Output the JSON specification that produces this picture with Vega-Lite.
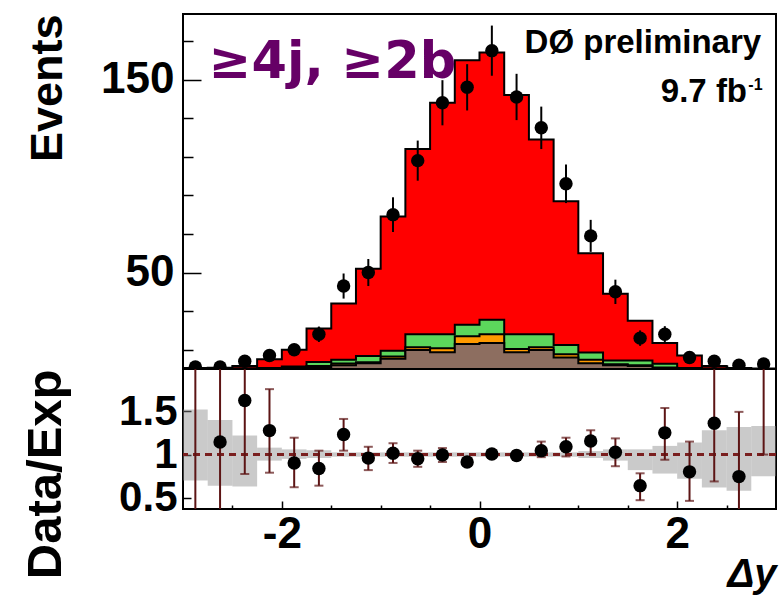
{
  "$schema": "https://vega.github.io/schema/vega-lite/v6.json",
  "background": "white",
  "padding": {"left": 20, "top": 12, "right": 6, "bottom": 5},
  "spacing": 0,
  "bounds": "flush",
  "config": {
    "view": {"stroke": "black", "strokeWidth": 2},
    "axis": {
      "labelFont": "Liberation Sans", "labelFontWeight": "bold", "labelFontSize": 44, "labelColor": "black",
      "titleFont": "Liberation Sans", "titleFontWeight": "bold", "titleColor": "black",
      "tickColor": "black", "tickWidth": 1.5, "domain": false, "grid": false, "zindex": 1, "labelOverlap": false
    }
  },
  "datasets": {
    "hist": [
      {"edge": -3, "tot": 0.5, "w": 0, "z": 0, "mj": 0},
      {"edge": -2.75, "tot": 0.6, "w": 0.1, "z": 0.05, "mj": 0},
      {"edge": -2.5, "tot": 1.5, "w": 0.3, "z": 0.1, "mj": 0.1},
      {"edge": -2.25, "tot": 5, "w": 0.5, "z": 0.2, "mj": 0.1},
      {"edge": -2, "tot": 10, "w": 1.3, "z": 0.5, "mj": 0.3},
      {"edge": -1.75, "tot": 21, "w": 3.6, "z": 1.5, "mj": 0.8},
      {"edge": -1.5, "tot": 34, "w": 4.8, "z": 2.9, "mj": 1.9},
      {"edge": -1.25, "tot": 52, "w": 6.8, "z": 3.5, "mj": 3.0},
      {"edge": -1, "tot": 79, "w": 9.5, "z": 6.5, "mj": 5.3},
      {"edge": -0.75, "tot": 114, "w": 18, "z": 11.3, "mj": 9.9},
      {"edge": -0.5, "tot": 138, "w": 18, "z": 10.8, "mj": 8.7},
      {"edge": -0.25, "tot": 160, "w": 23, "z": 17, "mj": 13},
      {"edge": 0, "tot": 164, "w": 25.5, "z": 18, "mj": 13.5},
      {"edge": 0.25, "tot": 142, "w": 18, "z": 10.4, "mj": 8.7},
      {"edge": 0.5, "tot": 119, "w": 18, "z": 11.3, "mj": 9.9},
      {"edge": 0.75, "tot": 87, "w": 12.5, "z": 7.7, "mj": 6},
      {"edge": 1, "tot": 60, "w": 8.5, "z": 4.8, "mj": 3},
      {"edge": 1.25, "tot": 39, "w": 4.4, "z": 2.5, "mj": 1.9},
      {"edge": 1.5, "tot": 25, "w": 4.4, "z": 2, "mj": 1.5},
      {"edge": 1.75, "tot": 13.5, "w": 2.7, "z": 0.8, "mj": 0.5},
      {"edge": 2, "tot": 7, "w": 0.5, "z": 0.2, "mj": 0.1},
      {"edge": 2.25, "tot": 1.5, "w": 0.2, "z": 0.1, "mj": 0},
      {"edge": 2.5, "tot": 0.5, "w": 0.05, "z": 0, "mj": 0},
      {"edge": 2.75, "tot": 0.3, "w": 0, "z": 0, "mj": 0},
      {"edge": 3, "tot": 0.3, "w": 0, "z": 0, "mj": 0}
    ],
    "pts": [
      {"x": -2.875, "e0": -3, "e1": -2.75, "n": 1, "lo": 0, "hi": 2, "r": 2.3, "rlo": 0.1, "rhi": 4.5, "ulo": 0.70, "uhi": 1.52},
      {"x": -2.625, "e0": -2.75, "e1": -2.5, "n": 1, "lo": 0, "hi": 2, "r": 1.146, "rlo": 0.1, "rhi": 2.5, "ulo": 0.64, "uhi": 1.40},
      {"x": -2.375, "e0": -2.5, "e1": -2.25, "n": 4, "lo": 2, "hi": 6, "r": 1.625, "rlo": 0.775, "rhi": 2.5, "ulo": 0.63, "uhi": 1.22},
      {"x": -2.125, "e0": -2.25, "e1": -2, "n": 7, "lo": 4.4, "hi": 9.6, "r": 1.277, "rlo": 0.79, "rhi": 1.757, "ulo": 0.93, "uhi": 1.08},
      {"x": -1.875, "e0": -2, "e1": -1.75, "n": 10, "lo": 7, "hi": 13, "r": 0.903, "rlo": 0.622, "rhi": 1.195, "ulo": 0.95, "uhi": 1.06},
      {"x": -1.625, "e0": -1.75, "e1": -1.5, "n": 18, "lo": 14, "hi": 22, "r": 0.839, "rlo": 0.64, "rhi": 1.045, "ulo": 0.96, "uhi": 1.05},
      {"x": -1.375, "e0": -1.5, "e1": -1.25, "n": 43, "lo": 36.5, "hi": 49.5, "r": 1.232, "rlo": 1.045, "rhi": 1.412, "ulo": 0.975, "uhi": 1.025},
      {"x": -1.125, "e0": -1.25, "e1": -1, "n": 50, "lo": 43, "hi": 57, "r": 0.959, "rlo": 0.82, "rhi": 1.09, "ulo": 0.975, "uhi": 1.025},
      {"x": -0.875, "e0": -1, "e1": -0.75, "n": 80, "lo": 71, "hi": 89, "r": 1.015, "rlo": 0.903, "rhi": 1.131, "ulo": 0.975, "uhi": 1.025},
      {"x": -0.625, "e0": -0.75, "e1": -0.5, "n": 108, "lo": 97.6, "hi": 118.4, "r": 0.951, "rlo": 0.858, "rhi": 1.045, "ulo": 0.975, "uhi": 1.025},
      {"x": -0.375, "e0": -0.5, "e1": -0.25, "n": 138, "lo": 126.3, "hi": 149.7, "r": 0.996, "rlo": 0.914, "rhi": 1.075, "ulo": 0.975, "uhi": 1.025},
      {"x": -0.125, "e0": -0.25, "e1": 0, "n": 146, "lo": 134, "hi": 158, "r": 0.914, "rlo": 0.87, "rhi": 0.96, "ulo": 0.975, "uhi": 1.025},
      {"x": 0.125, "e0": 0, "e1": 0.25, "n": 165, "lo": 152, "hi": 178, "r": 1.007, "rlo": 0.96, "rhi": 1.05, "ulo": 0.975, "uhi": 1.025},
      {"x": 0.375, "e0": 0.25, "e1": 0.5, "n": 141, "lo": 129, "hi": 153, "r": 0.989, "rlo": 0.94, "rhi": 1.04, "ulo": 0.975, "uhi": 1.025},
      {"x": 0.625, "e0": 0.5, "e1": 0.75, "n": 125, "lo": 114, "hi": 136, "r": 1.045, "rlo": 0.97, "rhi": 1.15, "ulo": 0.975, "uhi": 1.025},
      {"x": 0.875, "e0": 0.75, "e1": 1, "n": 96, "lo": 86, "hi": 106, "r": 1.09, "rlo": 0.978, "rhi": 1.195, "ulo": 0.975, "uhi": 1.025},
      {"x": 1.125, "e0": 1, "e1": 1.25, "n": 69, "lo": 60.7, "hi": 77.3, "r": 1.157, "rlo": 1.007, "rhi": 1.281, "ulo": 0.96, "uhi": 1.04},
      {"x": 1.375, "e0": 1.25, "e1": 1.5, "n": 40, "lo": 33.7, "hi": 46.3, "r": 1.026, "rlo": 0.865, "rhi": 1.187, "ulo": 0.93, "uhi": 1.06},
      {"x": 1.625, "e0": 1.5, "e1": 1.75, "n": 16, "lo": 12, "hi": 20, "r": 0.64, "rlo": 0.472, "rhi": 0.783, "ulo": 0.82, "uhi": 1.06},
      {"x": 1.875, "e0": 1.75, "e1": 2, "n": 18, "lo": 13.8, "hi": 22.2, "r": 1.251, "rlo": 0.94, "rhi": 1.539, "ulo": 0.78, "uhi": 1.10},
      {"x": 2.125, "e0": 2, "e1": 2.25, "n": 6, "lo": 3.5, "hi": 8.5, "r": 0.8, "rlo": 0.464, "rhi": 1.15, "ulo": 0.72, "uhi": 1.14},
      {"x": 2.375, "e0": 2.25, "e1": 2.5, "n": 4, "lo": 2, "hi": 6, "r": 1.363, "rlo": 0.689, "rhi": 2.5, "ulo": 0.62, "uhi": 1.28},
      {"x": 2.625, "e0": 2.5, "e1": 2.75, "n": 2, "lo": 0.6, "hi": 3.4, "r": 0.745, "rlo": 0.1, "rhi": 1.494, "ulo": 0.58, "uhi": 1.32},
      {"x": 2.875, "e0": 2.75, "e1": 3, "n": 2.6, "lo": 1, "hi": 4.2, "r": 2.5, "rlo": 1.0, "rhi": 4.0, "ulo": 0.75, "uhi": 1.33}
    ]
  },
  "vconcat": [
    {
      "width": 593, "height": 355,
      "layer": [
        {
          "data": {"name": "hist"},
          "mark": {"type": "area", "interpolate": "step-after", "fill": "#ff0000", "stroke": "black", "strokeWidth": 2},
          "encoding": {
            "x": {"field": "edge", "type": "quantitative", "scale": {"domain": [-3, 3], "nice": false, "zero": false},
              "axis": {"orient": "bottom", "values": [-2.5, -2, -1.5, -1, -0.5, 0, 0.5, 1, 1.5, 2, 2.5], "labels": false, "title": null,
                "tickSize": {"condition": {"test": "datum.value % 2 === 0", "value": -8}, "value": -4}}},
            "y": {"field": "tot", "type": "quantitative", "scale": {"domain": [0, 184], "nice": false},
              "axis": {"values": [10, 20, 30, 40, 50, 60, 70, 80, 90, 100, 110, 120, 130, 140, 150, 160, 170, 180],
                "labelExpr": "datum.value % 50 === 0 ? datum.label : ''", "labelPadding": 27,
                "tickSize": {"condition": {"test": "datum.value % 50 === 0", "value": -18}, "value": -10},
                "title": "Events", "titleFontSize": 45, "titleAnchor": "end", "titlePadding": 30}}
          }
        },
        {
          "data": {"name": "hist"},
          "mark": {"type": "area", "interpolate": "step-after", "fill": "#5cd65c", "stroke": "black", "strokeWidth": 2},
          "encoding": {"x": {"field": "edge", "type": "quantitative"}, "y": {"field": "w", "type": "quantitative"}}
        },
        {
          "data": {"name": "hist"},
          "mark": {"type": "area", "interpolate": "step-after", "fill": "#ff9a00", "stroke": "black", "strokeWidth": 2},
          "encoding": {"x": {"field": "edge", "type": "quantitative"}, "y": {"field": "z", "type": "quantitative"}}
        },
        {
          "data": {"name": "hist"},
          "mark": {"type": "area", "interpolate": "step-after", "fill": "#8d6e60", "stroke": "black", "strokeWidth": 2},
          "encoding": {"x": {"field": "edge", "type": "quantitative"}, "y": {"field": "mj", "type": "quantitative"}}
        },
        {
          "data": {"name": "pts"},
          "mark": {"type": "rule", "color": "black", "strokeWidth": 2, "clip": true},
          "encoding": {"x": {"field": "x", "type": "quantitative"}, "y": {"field": "lo", "type": "quantitative"}, "y2": {"field": "hi"}}
        },
        {
          "data": {"name": "pts"},
          "mark": {"type": "circle", "size": 180, "color": "black", "opacity": 1, "clip": true},
          "encoding": {"x": {"field": "x", "type": "quantitative"}, "y": {"field": "n", "type": "quantitative"}}
        },
        {
          "data": {"values": [{"t": "≥4j, ≥2b"}]},
          "mark": {"type": "text", "align": "left", "baseline": "alphabetic", "font": "DejaVu Sans", "fontWeight": "bold", "fontSize": 51, "color": "#660066"},
          "encoding": {"x": {"datum": -2.74}, "y": {"datum": 151}, "text": {"field": "t"}}
        },
        {
          "data": {"values": [{"t": "DØ preliminary"}]},
          "mark": {"type": "text", "align": "right", "baseline": "alphabetic", "font": "Liberation Sans", "fontWeight": "bold", "fontSize": 33, "color": "black"},
          "encoding": {"x": {"datum": 2.85}, "y": {"datum": 164}, "text": {"field": "t"}}
        },
        {
          "data": {"values": [{"t": "9.7 fb"}]},
          "mark": {"type": "text", "align": "right", "baseline": "alphabetic", "font": "Liberation Sans", "fontWeight": "bold", "fontSize": 33, "color": "black"},
          "encoding": {"x": {"datum": 2.707}, "y": {"datum": 138.6}, "text": {"field": "t"}}
        },
        {
          "data": {"values": [{"t": "-1"}]},
          "mark": {"type": "text", "align": "left", "baseline": "alphabetic", "font": "Liberation Sans", "fontWeight": "bold", "fontSize": 16, "color": "black"},
          "encoding": {"x": {"datum": 2.72}, "y": {"datum": 144.5}, "text": {"field": "t"}}
        }
      ]
    },
    {
      "width": 593, "height": 140,
      "data": {"name": "pts"},
      "layer": [
        {
          "mark": {"type": "rect", "color": "#8a8a8a", "opacity": 0.45},
          "encoding": {
            "x": {"field": "e0", "type": "quantitative", "scale": {"domain": [-3, 3], "nice": false, "zero": false},
              "axis": {"orient": "bottom", "values": [-2.5, -2, -1.5, -1, -0.5, 0, 0.5, 1, 1.5, 2, 2.5],
                "labelExpr": "datum.value === -2 ? '-2' : datum.value === 0 ? '0' : datum.value === 2 ? '2' : ''",
                "labelPadding": 11,
                "tickSize": {"condition": {"test": "datum.value % 2 === 0", "value": -8}, "value": -4},
                "title": "Δy", "titleFontSize": 40, "titleFontStyle": "italic", "titleAnchor": "end", "titleAlign": "right", "titlePadding": -6}},
            "x2": {"field": "e1"},
            "y": {"field": "ulo", "type": "quantitative", "scale": {"domain": [0.37, 1.99], "nice": false, "zero": false},
              "axis": {"values": [0.5, 0.75, 1, 1.25, 1.5, 1.75],
                "labelExpr": "datum.value === 0.5 ? '0.5' : datum.value === 1 ? '1' : datum.value === 1.5 ? '1.5' : ''",
                "labelPadding": 14, "labelFontSize": 42,
                "tickSize": {"condition": {"test": "(datum.value * 2) % 1 === 0", "value": -8}, "value": -5},
                "title": "Data/Exp", "titleFontSize": 49, "titleAnchor": "end", "titlePadding": 48}},
            "y2": {"field": "uhi"}
          }
        },
        {
          "mark": {"type": "rule", "color": "#7a1f1f", "strokeWidth": 2, "strokeDash": [7, 5]},
          "encoding": {"y": {"datum": 1}}
        },
        {
          "mark": {"type": "rule", "color": "#5c1414", "strokeWidth": 2, "clip": true},
          "encoding": {"x": {"field": "x", "type": "quantitative"}, "y": {"field": "rlo", "type": "quantitative"}, "y2": {"field": "rhi"}}
        },
        {
          "mark": {"type": "tick", "orient": "horizontal", "color": "#5c1414", "size": 9, "thickness": 2, "clip": true},
          "encoding": {"x": {"field": "x", "type": "quantitative"}, "y": {"field": "rlo", "type": "quantitative"}}
        },
        {
          "mark": {"type": "tick", "orient": "horizontal", "color": "#5c1414", "size": 9, "thickness": 2, "clip": true},
          "encoding": {"x": {"field": "x", "type": "quantitative"}, "y": {"field": "rhi", "type": "quantitative"}}
        },
        {
          "mark": {"type": "circle", "size": 180, "color": "black", "opacity": 1, "clip": true},
          "encoding": {"x": {"field": "x", "type": "quantitative"}, "y": {"field": "r", "type": "quantitative"}}
        }
      ]
    }
  ]
}
